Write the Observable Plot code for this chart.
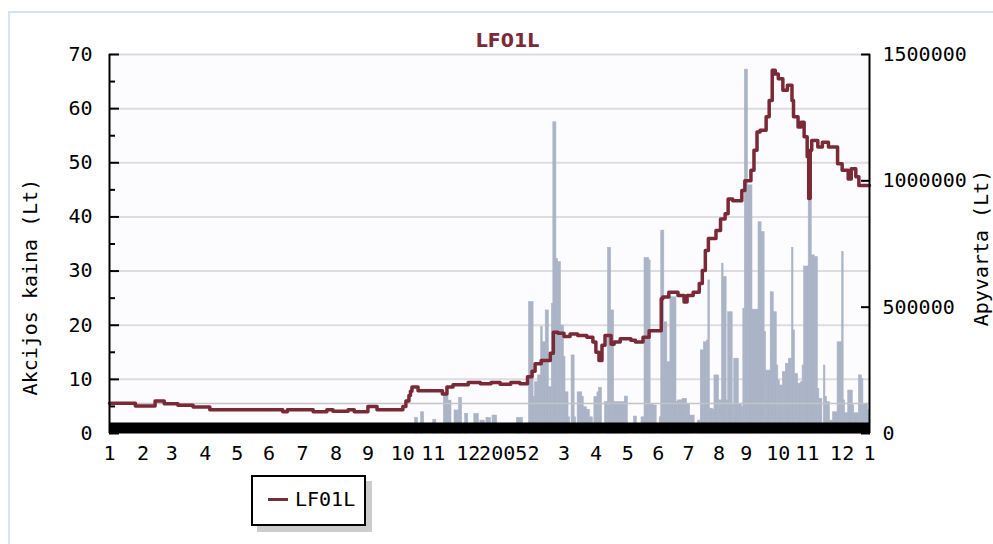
<!DOCTYPE html>
<html><head><meta charset="utf-8">
<script src="https://cdn.jsdelivr.net/npm/d3@7"></script>
<script src="https://cdn.jsdelivr.net/npm/@observablehq/plot@0.6"></script>
<style>
body{margin:0;background:#fff;}
#wrap{position:relative;width:993px;height:544px;overflow:hidden;}
#frame{position:absolute;left:8px;top:11px;width:1000px;height:560px;border:2px solid #d5e4f0;box-sizing:border-box;}
#chart{position:absolute;left:0;top:0;}
#legend{position:absolute;left:251px;top:475px;width:115px;height:51px;border:2px solid #000;box-sizing:border-box;background:#fff;box-shadow:6px 6px 0 #cccccc;font-family:"DejaVu Sans Mono",monospace;font-size:20px;color:#000;}
#legend .sw{position:absolute;left:15px;top:21px;width:20px;height:3px;background:#7a2a37;}
#legend .tx{position:absolute;left:42px;top:10px;line-height:24px;}
</style></head>
<body>
<div id="wrap">
  <div id="frame"></div>
  <div id="chart"></div>
  <div id="legend"><div class="sw"></div><div class="tx">LF01L</div></div>
</div>
<script>
// x axis: trading-day index (0 = first trading day of Jan 2004, 500 = Jan 2006)
const monthTickDays = [0,22,41,63,84,105,127,149,170,193,213,236,259,279,299,320,341,361,381,401,419,440,459,482,500];
const monthTickLabels = ["1","2","3","4","5","6","7","8","9","10","11","12","2005","2","3","4","5","6","7","8","9","10","11","12","1"];
const priceTicks = [0,10,20,30,40,50,60,70];
const priceMinorTicks = [5,15,25,35,45,55,65];
const volumeTicks = [0,500000,1000000,1500000];
const volumeMax = 1500000;
const avgVolume = 119000;

// closing price (Lt): [trading day, price]
const priceSeries = [
 [0,5.6],[17,5.1],[30,6.0],[36,5.5],[45,5.2],[55,4.9],[66,4.4],[114,4.0],[117,4.4],[134,4.0],
 [143,4.4],[147,4.1],[157,4.4],[161,4.0],[170,5.0],[176,4.4],[193,5.0],[195,6.0],[197,7.0],[198,7.8],
 [199,8.6],[203,7.9],[219,7.3],[222,8.6],[226,9.0],[236,9.4],[244,9.2],[251,9.4],[257,9.1],[264,9.4],
 [270,9.2],[275,10.5],[278,11.5],[280,12.9],[284,13.5],[290,14.8],[292,18.7],[295,18.5],[299,17.9],[303,18.4],
 [308,18.1],[314,17.8],[318,16.9],[320,15.0],[322,13.5],[324,16.3],[326,18.1],[330,16.5],[332,16.9],[336,17.5],
 [343,17.2],[346,16.9],[351,17.8],[355,19.0],[363,24.9],[364,25.2],[368,26.1],[374,25.5],[378,24.3],[380,25.5],
 [384,26.1],[388,27.7],[390,30.1],[392,33.8],[394,36.0],[399,37.5],[402,39.6],[405,40.6],[407,43.3],[410,43.0],
 [416,44.9],[418,46.7],[422,48.6],[424,52.3],[426,55.7],[428,56.0],[432,58.5],[434,61.5],[436,67.1],[438,66.4],
 [440,65.5],[443,63.4],[446,64.3],[449,61.5],[450,58.5],[453,56.6],[455,57.5],[457,54.8],[459,51.1],[460,43.4],
 [461,52.3],[462,54.1],[466,52.9],[469,53.8],[473,52.9],[479,49.8],[482,48.6],[486,47.0],[488,48.9],[491,47.4],
 [493,45.8],[500,45.8]
];

// turnover (Lt): [first day, last day, turnover]
const volumeBars = [
 [201,203,62000],[205,207,84000],[213,215,54000],[220,223,150000],[223,225,130000],[227,230,91000],[230,232,141000],
 [234,236,78000],[240,243,78000],[244,247,51000],[248,251,62000],[252,255,71000],[268,272,62000],
 [276,279,520000],[279,280,144000],[280,282,203000],[282,284,230000],[284,285,421000],[285,287,361000],[287,289,487000],
 [289,291,183000],[291,292,513000],[292,294,1232000],[294,295,691000],[295,297,678000],[297,299,427000],[299,300,302000],
 [300,302,163000],[302,303,64000],[304,306,309000],[306,307,64000],[308,311,163000],[311,312,144000],[312,314,104000],
 [314,316,94000],[316,318,64000],[319,321,144000],[321,322,163000],[322,324,181000],[326,328,124000],[328,330,735000],
 [330,332,487000],[332,339,124000],[339,341,146000],[345,347,67000],[350,352,64000],[352,355,695000],[355,356,685000],
 [356,358,117000],[358,360,111000],[362,363,64000],[363,365,803000],[365,367,440000],[367,369,282000],[369,373,539000],
 [373,374,124000],[374,377,131000],[377,380,137000],[380,382,117000],[382,385,71000],[387,389,51000],[389,391,329000],
 [391,393,361000],[393,394,368000],[394,395,606000],[395,397,98000],[397,398,94000],[398,401,230000],[401,403,131000],
 [403,404,672000],[404,406,619000],[406,407,131000],[407,410,480000],[410,411,117000],[411,414,296000],[414,416,117000],
 [416,417,104000],[417,418,494000],[418,420,1440000],[420,423,982000],[423,427,490000],[427,429,836000],[429,431,797000],
 [431,432,401000],[432,435,249000],[435,437,559000],[437,439,480000],[439,440,269000],[440,441,210000],[441,443,190000],
 [443,445,243000],[445,447,276000],[447,449,296000],[449,450,735000],[450,451,408000],[451,453,236000],[453,455,197000],
 [455,456,203000],[456,457,269000],[457,460,661000],[460,462,920000],[462,464,705000],[464,466,698000],[466,467,177000],
 [467,469,137000],[470,471,269000],[471,472,144000],[472,474,124000],[474,476,51000],[476,479,84000],[479,482,361000],
 [482,483,718000],[483,484,131000],[484,486,80000],[486,489,170000],[489,490,111000],[490,493,80000],[493,495,230000],
 [495,496,216000],[496,499,117000],[499,500,94000]
];

const k = 70 / volumeMax; // turnover -> price-axis units
const lineColor = "#7a2a37";
const barColor = "#aab4c6";
const labelOf = new Map(monthTickDays.map((d, i) => [d, monthTickLabels[i]]));

const chart = Plot.plot({
  width: 993, height: 470,
  marginLeft: 109, marginRight: 124, marginTop: 54, marginBottom: 37,
  x: {domain: [0, 500], axis: null},
  y: {domain: [0, 70], axis: null},
  style: {fontFamily: "'DejaVu Sans Mono', monospace", fontSize: "20px", background: "transparent", overflow: "visible", color: "#000"},
  marks: [
    Plot.frame({fill: "#fcfbfe", stroke: null}),
    Plot.ruleY(priceTicks.slice(1), {stroke: "#dddce0", strokeWidth: 2}),
    Plot.rect(volumeBars, {x1: d => d[0], x2: d => d[1], y1: 0, y2: d => d[2] * k, fill: barColor, stroke: barColor, strokeWidth: 0.6}),
    Plot.ruleY([avgVolume * k], {stroke: "#c4c3c6", strokeWidth: 1.5}),
    Plot.line(priceSeries, {x: d => d[0], y: d => d[1], curve: "step-after", stroke: lineColor, strokeWidth: 3.5}),
    Plot.ruleY([0], {stroke: "#000", strokeWidth: 11, dy: -5.5}),
    Plot.ruleX([0, 500], {stroke: "#000", strokeWidth: 2}),
    Plot.axisY(priceTicks, {anchor: "left", tickSize: 0, tickPadding: 17, label: null}),
    Plot.axisY(priceTicks, {anchor: "left", tickSize: -10, strokeWidth: 2, tickFormat: () => "", label: null}),
    Plot.axisY(priceMinorTicks, {anchor: "left", tickSize: -6, strokeWidth: 2, tickFormat: () => "", label: null}),
    Plot.axisY(volumeTicks.map(v => v * k), {anchor: "right", tickSize: 0, tickPadding: 13, tickFormat: d => String(Math.round(d / k)), label: null}),
    Plot.axisY(volumeTicks.map(v => v * k), {anchor: "right", tickSize: -9, strokeWidth: 2, tickFormat: () => "", label: null}),
    Plot.axisX(monthTickDays, {anchor: "bottom", tickSize: 0, tickPadding: 12, tickFormat: d => labelOf.get(d), label: null}),
    Plot.text(["Akcijos kaina (Lt)"], {frameAnchor: "left", textAnchor: "middle", dx: -79, dy: 43, rotate: -90, fontSize: 20}),
    Plot.text(["Apyvarta (Lt)"], {frameAnchor: "right", textAnchor: "middle", dx: 112, dy: 4, rotate: -90, fontSize: 20}),
    Plot.text(["LF01L"], {frameAnchor: "top", dx: 18, dy: -21, fontFamily: "'DejaVu Sans', sans-serif", fontWeight: "bold", fontSize: 19, fill: lineColor})
  ]
});
document.getElementById("chart").appendChild(chart);
</script>
</body></html>
